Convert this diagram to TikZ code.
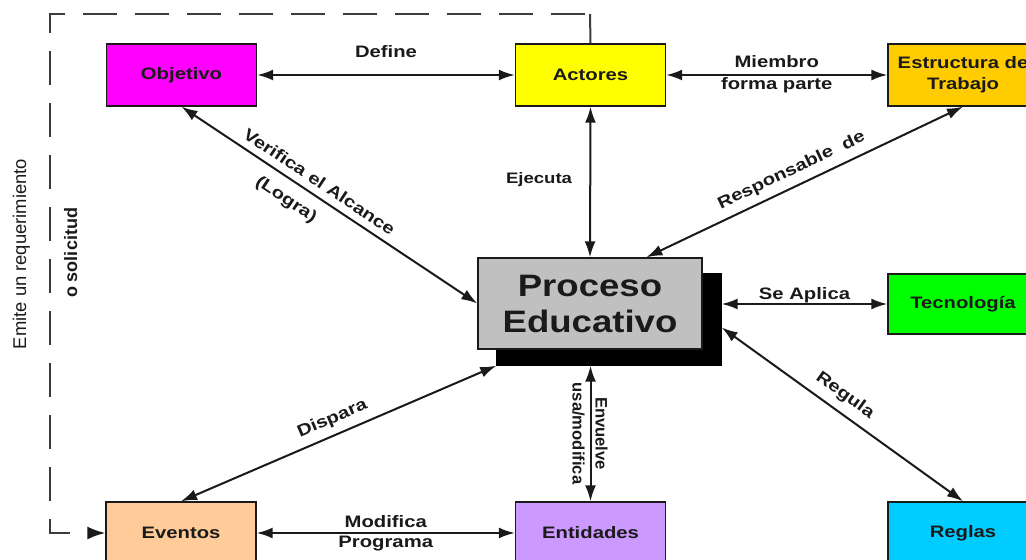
\documentclass[tikz,border=0pt]{standalone}
\usepackage{fontspec}
\setmainfont{Liberation Sans}
\newfontfamily\lblfont[FakeStretch=1.22]{Liberation Sans}
\newfontfamily\bigfont[FakeStretch=1.18]{Liberation Sans}
\usetikzlibrary{arrows.meta,calc}
\definecolor{cmag}{HTML}{FF00FF}
\definecolor{cyel}{HTML}{FFFF00}
\definecolor{corg}{HTML}{FFCC00}
\definecolor{cgry}{HTML}{C0C0C0}
\definecolor{cgrn}{HTML}{00FF00}
\definecolor{cpch}{HTML}{FFCC99}
\definecolor{cvio}{HTML}{CC99FF}
\definecolor{ccya}{HTML}{00CCFF}
\definecolor{ink}{HTML}{1A1A1A}
\begin{document}
\begin{tikzpicture}[x=0.5pt,y=-0.5pt,
  box/.style={draw=ink, line width=0.7pt, minimum width=75pt, minimum height=31pt,
    inner sep=0pt, align=center, text=ink,
    font=\lblfont\fontsize{8.3}{10.5}\selectfont\bfseries},
  conn/.style={line width=1pt, draw=ink, {Latex[length=8pt,width=5.5pt]}-{Latex[length=8pt,width=5.5pt]}},
  lbl/.style={font=\lblfont\fontsize{8.3}{10}\selectfont\bfseries, text=ink, inner sep=1pt},
  vlbl/.style={font=\fontsize{8.3}{10}\selectfont\bfseries, text=ink, inner sep=1pt},
  side/.style={font=\fontsize{9.2}{11}\selectfont, text=ink, inner sep=0pt}]
\useasboundingbox (0,0) rectangle (1026,560);
\fill[white] (0,0) rectangle (1026,560);
\clip (0,0) rectangle (1026,560);

% boxes
\node[box, fill=cmag] (obj) at (181.5,75) {Objetivo};
\node[box, fill=cyel] (act) at (590.5,75) {Actores};
\node[box, fill=corg] (est) at (963,75) {Estructura de\\Trabajo};
\node[box, fill=black, draw=black, minimum width=112pt, minimum height=45.5pt] (shad) at (609,319.5) {};
\node[box, fill=cgry, minimum width=112pt, minimum height=45.5pt,
      font=\bigfont\fontsize{15.5}{18}\selectfont\bfseries] (proc) at (590,303.5) {Proceso\\Educativo};
\node[box, fill=cgrn, minimum height=30pt] (tec) at (963,304) {Tecnología};
\node[box, fill=cpch] (eve) at (181,533) {Eventos};
\node[box, fill=cvio] (ent) at (590.5,533) {Entidades};
\node[box, fill=ccya] (reg) at (963,533) {Reglas};

% helper coordinates
\coordinate (c1) at (590,14);
\coordinate (c2) at (50,14);
\coordinate (c3) at (50,533);
\coordinate (c4) at (70,533);
\coordinate (c5) at (88,533);
\coordinate (pn) at ($(proc.north)!0.5!(proc.north east)$);
\coordinate (pe) at (tec.west -| shad.east);
\coordinate (pr) at ($(shad.east)+(0,8)$);
\coordinate (pb) at (ent.north |- shad.south);

% request path (dashed)
\draw[line width=1pt, draw=ink!85] (act.north) -- (c1);
\draw[line width=1pt, draw=ink!85, dash pattern=on 17pt off 9pt, dash phase=23.5pt]
  (c1) -- (c2) -- (c3) -- (c4);
\draw[line width=1pt, draw=ink, -{Latex[length=9pt,width=6.5pt]}] (c5) -- (eve.west);

% connectors
\draw[conn] (obj.east) -- node[lbl, anchor=base, yshift=8.5pt] {Define} (act.west);
\draw[conn] (act.east) -- node[lbl, anchor=base, yshift=3.5pt] {Miembro}
                         node[lbl, anchor=base, yshift=-7.5pt] {forma parte} (est.west);
\draw[conn] (act.south) -- (proc.north);
\node[lbl, font=\lblfont\fontsize{7.6}{10}\selectfont\bfseries] (lej) at (539,180) {Ejecuta};
\draw[conn] (obj.south) -- node[lbl, sloped, above=2.5pt, pos=0.44] {Verifica el Alcance}
                         node[lbl, sloped, below=4.5pt, pos=0.39] {(Logra)} (proc.west);
\draw[conn] (pn) -- node[lbl, sloped, above=2.5pt, pos=0.48] {Responsable\ \ de} (est.south);
\draw[conn] (pe) -- node[lbl, anchor=base, yshift=2pt] {Se Aplica} (tec.west);
\draw[conn] (pr) -- node[lbl, sloped, above=3pt, pos=0.47] {Regula} (reg.north);
\draw[conn] (eve.north) -- node[lbl, sloped, above=2.5pt, pos=0.5] {Dispara} (shad.south west);
\draw[conn] (pb) -- (ent.north);
\draw[conn] (eve.east) -- node[lbl, anchor=base, yshift=3pt] {Modifica}
                         node[lbl, anchor=base, yshift=-7pt] {Programa} (ent.west);

% rotated labels
\node[vlbl, rotate=-90, anchor=base] (lenv) at ($(pb)!0.5!(ent.north)+(5,0)$) {Envuelve};
\node[vlbl, rotate=-90, anchor=base] (lusa) at ($(pb)!0.5!(ent.north)+(-18,0)$) {usa/modifica};
\node[side, rotate=90, anchor=base] (emite) at (26,254) {Emite un requerimiento};
\node[side, rotate=90, anchor=base, font=\fontsize{9}{11}\selectfont\bfseries] (osol) at (77,253) {o solicitud};
\end{tikzpicture}
\end{document}
